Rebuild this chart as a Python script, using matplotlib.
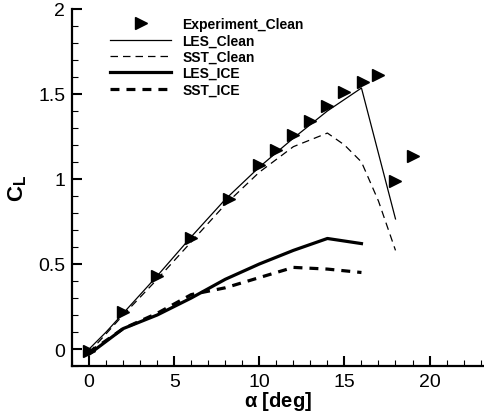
import matplotlib.pyplot as plt
from matplotlib.ticker import MultipleLocator

plt.rcParams['font.family'] = ['Liberation Sans', 'DejaVu Sans']

# experiment (clean)
exp_alpha = [0, 2, 4, 6, 8.2, 10, 11, 12, 13, 14, 15, 16.1, 17, 18, 19]
exp_cl = [-0.01, 0.22, 0.43, 0.65, 0.88, 1.08, 1.17, 1.26, 1.34, 1.43, 1.51, 1.57, 1.61, 0.99, 1.135]

les_clean_alpha = [0, 1, 2, 4, 6, 8, 10, 12, 14, 16, 18]
les_clean_cl = [0.0, 0.1, 0.21, 0.43, 0.66, 0.88, 1.07, 1.24, 1.40, 1.535, 0.765]

sst_clean_alpha = [0, 2, 4, 6, 8, 10, 12, 14, 15, 16, 17, 18]
sst_clean_cl = [-0.02, 0.2, 0.41, 0.63, 0.85, 1.04, 1.19, 1.27, 1.2, 1.1, 0.87, 0.58]

les_ice_alpha = [0, 2, 4, 6, 8, 10, 12, 14, 16]
les_ice_cl = [-0.03, 0.12, 0.2, 0.3, 0.41, 0.5, 0.58, 0.65, 0.62]

sst_ice_alpha = [0, 2, 4, 6, 8, 10, 12, 14, 16]
sst_ice_cl = [-0.02, 0.12, 0.21, 0.32, 0.36, 0.42, 0.48, 0.47, 0.45]

fig = plt.figure(figsize=(4.84, 4.14), dpi=100)
ax = fig.add_axes([0.149, 0.1135, 0.851, 0.8625])

ax.plot(exp_alpha, exp_cl, linestyle='none', marker='>', markersize=8,
        color='black', label='Experiment_Clean', zorder=5)
ax.plot(les_clean_alpha, les_clean_cl, color='black', lw=0.9, label='LES_Clean')
ax.plot(sst_clean_alpha, sst_clean_cl, color='black', lw=0.9,
        dashes=(6, 4), label='SST_Clean')
ax.plot(les_ice_alpha, les_ice_cl, color='black', lw=2.3, label='LES_ICE')
ax.plot(sst_ice_alpha, sst_ice_cl, color='black', lw=2.3,
        dashes=(2.8, 2.2), label='SST_ICE')

ax.set_xlim(-1, 23.2)
ax.set_ylim(-0.1, 2.0)
ax.xaxis.set_major_locator(MultipleLocator(5))
ax.xaxis.set_minor_locator(MultipleLocator(1))
ax.yaxis.set_minor_locator(MultipleLocator(0.1))
ax.set_yticks([0, 0.5, 1, 1.5, 2])
ax.set_yticklabels(['0', '0.5', '1', '1.5', '2'])

for s in ['top', 'right']:
    ax.spines[s].set_visible(False)
for s in ['left', 'bottom']:
    ax.spines[s].set_linewidth(1.6)

ax.tick_params(which='major', direction='in', length=7, width=1.5, labelsize=14, pad=5)
ax.tick_params(which='minor', direction='in', length=4, width=0.8)

ax.set_xlabel(r'$\mathregular{\alpha}$ [deg]', fontsize=14.5, fontweight='bold')
ax.xaxis.set_label_coords(0.5, -0.064)
ax.set_ylabel(r'C$_\mathregular{L}$', fontsize=16, fontweight='bold')
ax.yaxis.set_label_coords(-0.105, 0.5)

leg = ax.legend(loc='upper left', bbox_to_anchor=(110 / 484, 1 - 18 / 414),
                bbox_transform=fig.transFigure, frameon=False, numpoints=1,
                prop={'size': 10, 'weight': 'bold'}, handlelength=4.4,
                handletextpad=0.8, labelspacing=0.17, borderpad=0, borderaxespad=0)

fig.savefig('out.png', dpi=100)
